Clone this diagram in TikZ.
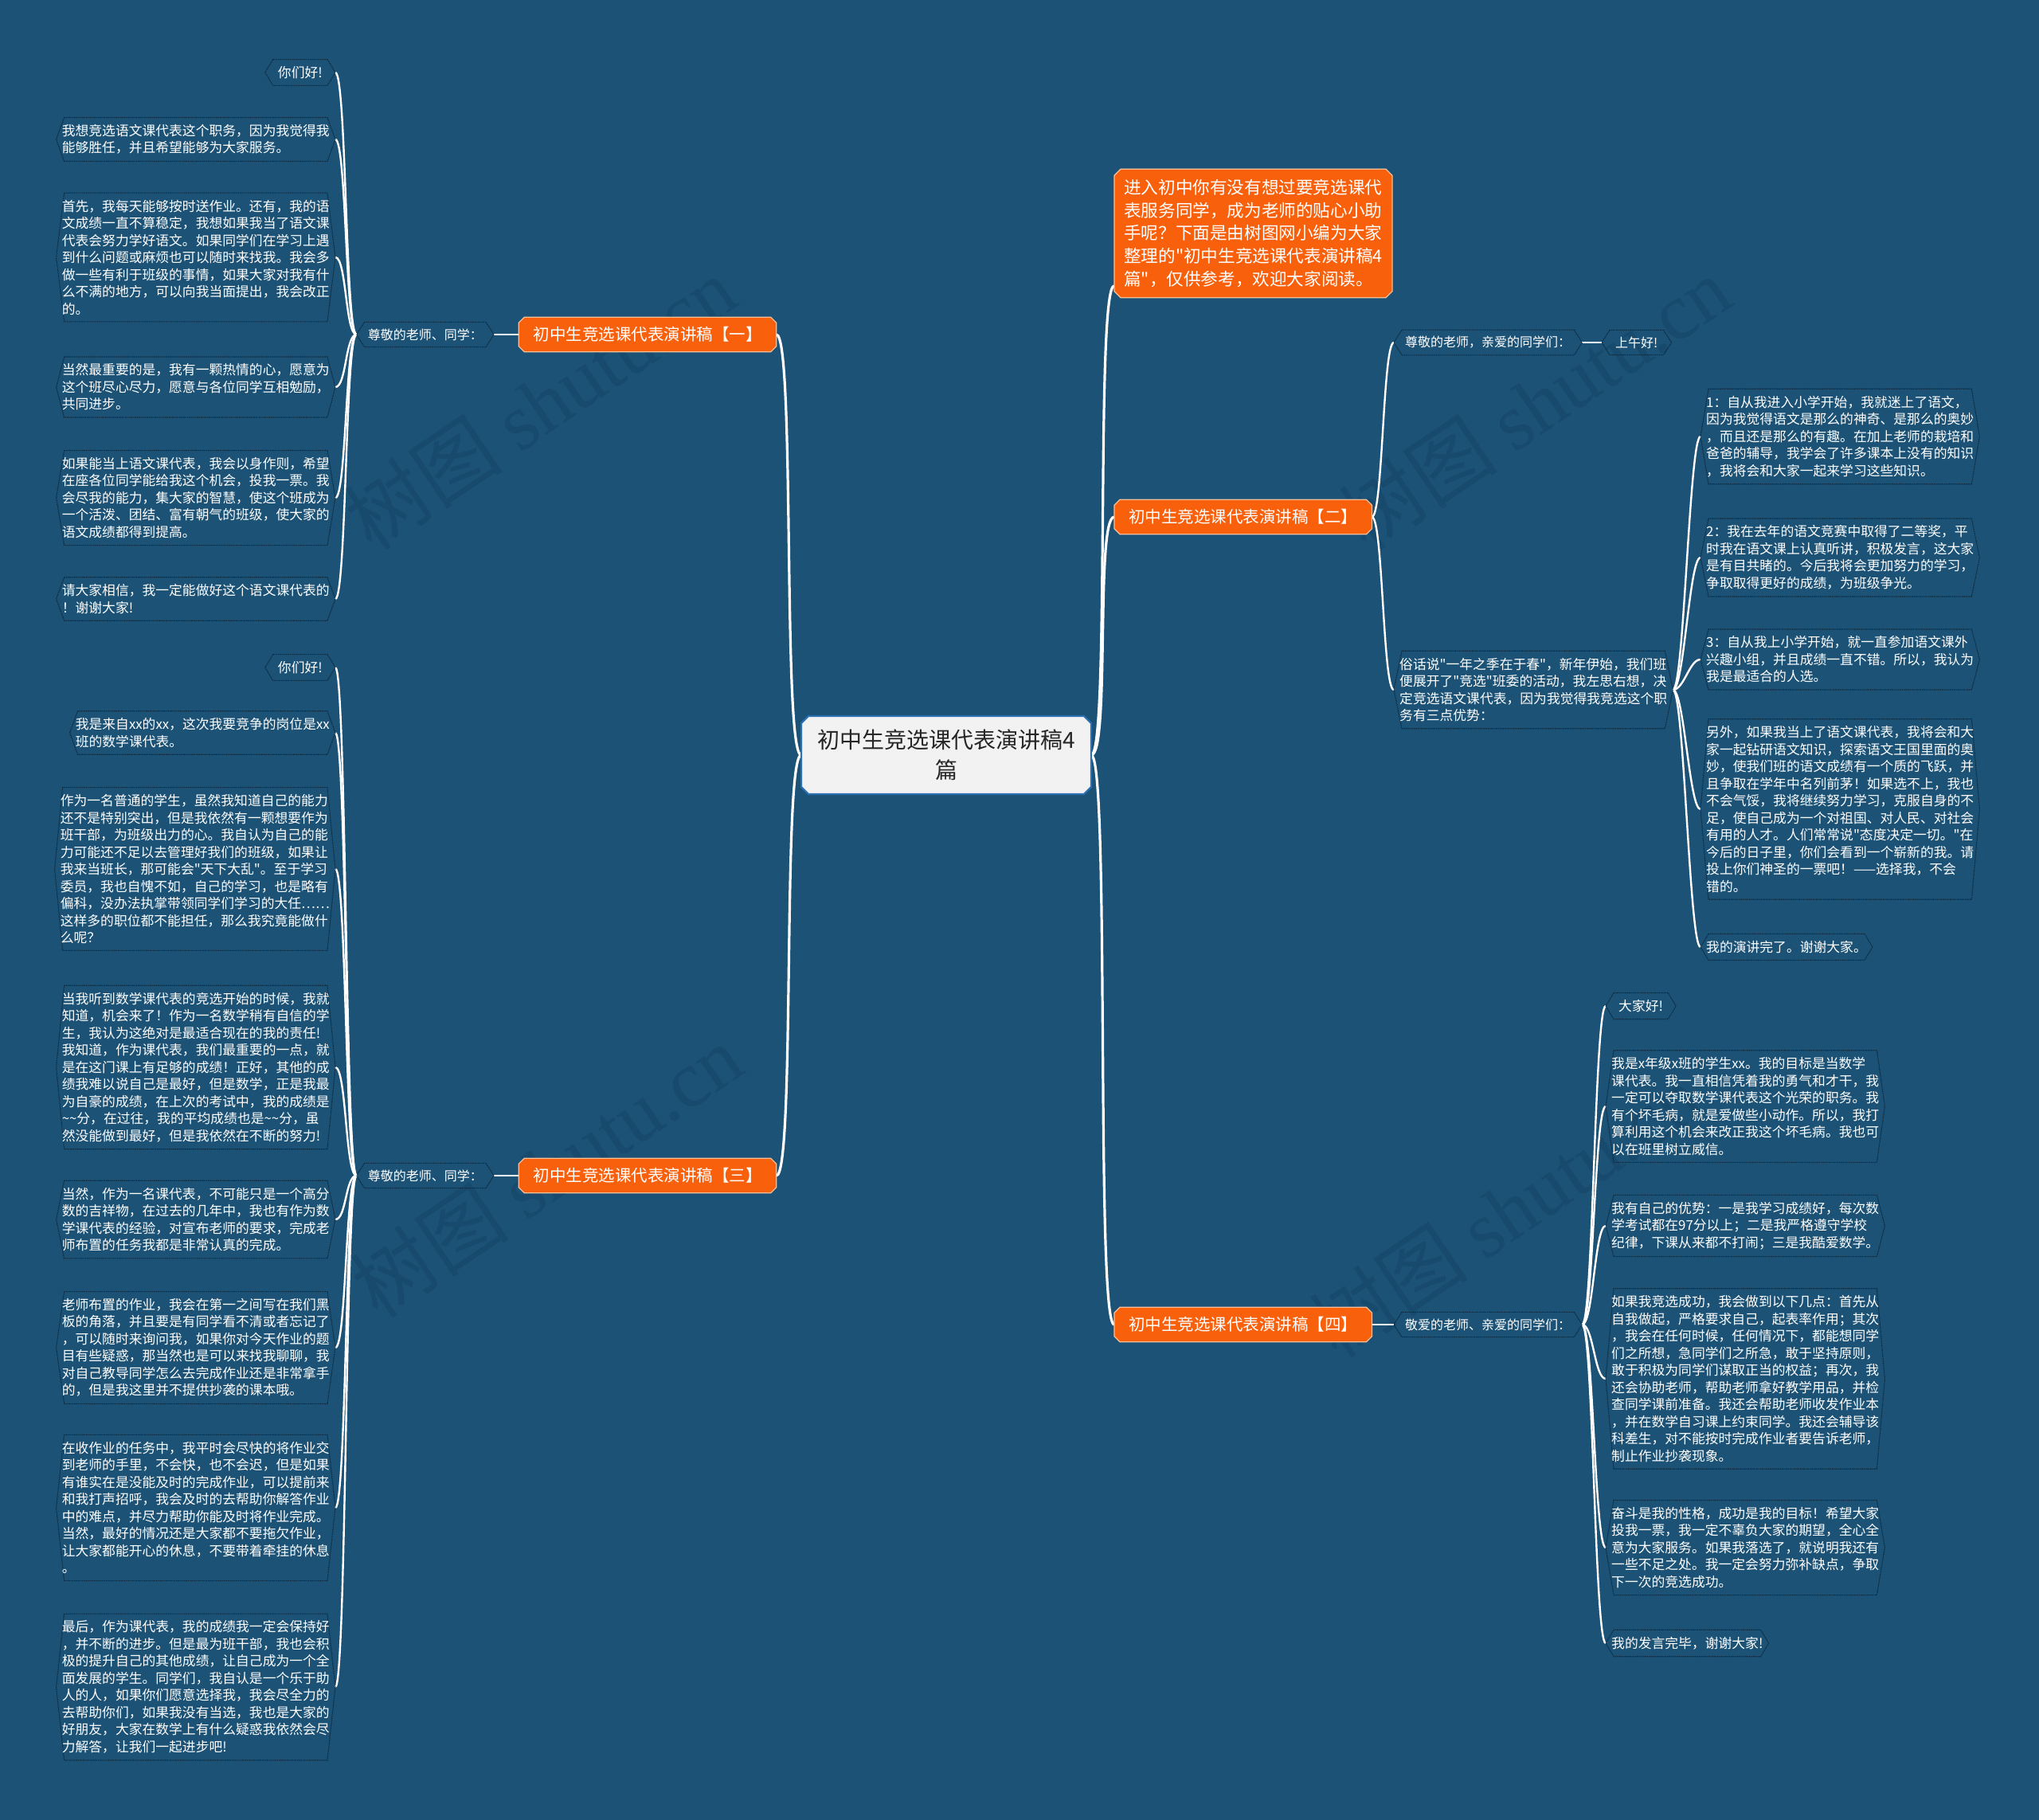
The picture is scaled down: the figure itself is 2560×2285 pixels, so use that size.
\documentclass[tikz,border=0pt]{standalone}
\usepackage{fontspec}
\setmainfont{Noto Sans CJK SC}[Ligatures=TeXOff]
\newfontfamily\wmserif{Liberation Serif}
\newcommand\dq{\symbol{34}}
\definecolor{bgc}{RGB}{27,82,118}
\definecolor{wmc}{RGB}{23,74,108}
\definecolor{orc}{RGB}{248,96,12}
\definecolor{orb}{RGB}{252,190,150}
\definecolor{cfill}{RGB}{242,242,242}
\definecolor{cline}{RGB}{44,112,180}
\definecolor{lfc}{RGB}{12,36,56}
\pgfdeclarelayer{back}
\pgfdeclarelayer{mid}
\pgfsetlayers{back,mid,main}
\newcommand\myhex[2][leafline]{%
  \draw[#1] ([xshift=10pt]#2.north west) -- ([xshift=-10pt]#2.north east) -- (#2.east)
  -- ([xshift=-10pt]#2.south east) -- ([xshift=10pt]#2.south west) -- (#2.west) -- cycle;}
\newcommand\myoct[3]{%
  \draw[#2] ([xshift=#3]#1.north west) -- ([xshift=-#3]#1.north east) -- ([yshift=-#3]#1.north east)
  -- ([yshift=#3]#1.south east) -- ([xshift=-#3]#1.south east) -- ([xshift=#3]#1.south west)
  -- ([yshift=#3]#1.south west) -- ([yshift=-#3]#1.north west) -- cycle;}
\begin{document}
\begin{tikzpicture}[x=1pt,y=-1pt,
  leaf/.style={text=white, font=\fontsize{16.8}{21.5}\selectfont, align=left, inner xsep=7pt, inner ysep=8.5pt},
  small/.style={leaf, inner xsep=16pt},
  lvl/.style={text=white, font=\fontsize{16}{19}\selectfont, inner xsep=14pt, inner ysep=8pt},
  branch/.style={text=white, font=\fontsize{20.5}{24}\selectfont, inner xsep=18pt, inner ysep=12pt},
  edge/.style={white, line width=2.4pt},
  bigedge/.style={white, line width=3.2pt},
  leafline/.style={draw=lfc, densely dotted, line width=1.1pt},
  orangebox/.style={fill=orc, draw=orb, line width=1.2pt},
  centerbox/.style={fill=cfill, draw=cline, line width=2pt},
  wm/.style={text=wmc, font=\fontsize{100}{100}\selectfont, rotate=34}]
\useasboundingbox (0,0) rectangle (2560,2285);
\begin{pgfonlayer}{back}
\fill[bgc] (0,0) rectangle (2560,2285);
\node[wm] (wm1) at (678,506) {树图 {\wmserif shutu.cn}};
\node[wm] (wm2) at (1927,506) {树图 {\wmserif shutu.cn}};
\node[wm] (wm3) at (686,1470) {树图 {\wmserif shutu.cn}};
\node[wm] (wm4) at (1890,1520) {树图 {\wmserif shutu.cn}};
\end{pgfonlayer}

% center
\node[font=\fontsize{28}{37.5}\selectfont, align=center, inner xsep=20pt, inner ysep=17pt, text=black!85] (C) at (1188,948)
  {初中生竞选课代表演讲稿4\\篇};

% branches
\node[branch] (B1) at (813,420) {初中生竞选课代表演讲稿【一】};
\node[branch] (B3) at (813,1476) {初中生竞选课代表演讲稿【三】};
\node[branch, anchor=west] (B2) at (1399,649) {初中生竞选课代表演讲稿【二】};
\node[branch, anchor=west] (B4) at (1399,1663) {初中生竞选课代表演讲稿【四】};
\node[text=white, font=\fontsize{21.6}{28.6}\selectfont, align=left, inner xsep=12pt, inner ysep=13pt, anchor=west] (I) at (1399,293)
  {进入初中你有没有想过要竞选课代\\表服务同学，成为老师的贴心小助\\手呢？下面是由树图网小编为大家\\整理的\dq 初中生竞选课代表演讲稿4\\篇\dq，仅供参考，欢迎大家阅读。};

% level 2
\node[lvl, anchor=east] (LA) at (620,420) {尊敬的老师、同学：};
\node[lvl, anchor=east] (LB) at (620,1476) {尊敬的老师、同学：};
\node[lvl, anchor=west] (R0) at (1750,430) {尊敬的老师，亲爱的同学们：};
\node[lvl, anchor=west, inner xsep=17pt] (R0b) at (2011,430) {上午好!};
\node[lvl, anchor=west] (S0) at (1750,1663) {敬爱的老师、亲爱的同学们：};
\node[leaf, anchor=west] (R1) at (1750,866)
  {俗话说\dq 一年之季在于春\dq，新年伊始，我们班\\便展开了\dq 竞选\dq 班委的活动，我左思右想，决\\定竞选语文课代表，因为我觉得我竞选这个职\\务有三点优势：};

% left upper leaves
\node[small, anchor=east] (L1) at (421,91) {你们好!};
\node[leaf, anchor=east] (L2) at (421,175) {我想竞选语文课代表这个职务，因为我觉得我\\能够胜任，并且希望能够为大家服务。};
\node[leaf, anchor=east] (L3) at (421,323) {首先，我每天能够按时送作业。还有，我的语\\文成绩一直不算稳定，我想如果我当了语文课\\代表会努力学好语文。如果同学们在学习上遇\\到什么问题或麻烦也可以随时来找我。我会多\\做一些有利于班级的事情，如果大家对我有什\\么不满的地方，可以向我当面提出，我会改正\\的。};
\node[leaf, anchor=east] (L4) at (421,486) {当然最重要的是，我有一颗热情的心，愿意为\\这个班尽心尽力，愿意与各位同学互相勉励，\\共同进步。};
\node[leaf, anchor=east] (L5) at (421,625) {如果能当上语文课代表，我会以身作则，希望\\在座各位同学能给我这个机会，投我一票。我\\会尽我的能力，集大家的智慧，使这个班成为\\一个活泼、团结、富有朝气的班级，使大家的\\语文成绩都得到提高。};
\node[leaf, anchor=east] (L6) at (421,752) {请大家相信，我一定能做好这个语文课代表的\\！谢谢大家!};

% left lower leaves
\node[small, anchor=east] (M1) at (421,838) {你们好!};
\node[leaf, anchor=east] (M2) at (421,920) {我是来自xx的xx，这次我要竞争的岗位是xx\\班的数学课代表。};
\node[leaf, anchor=east] (M3) at (421,1091) {作为一名普通的学生，虽然我知道自己的能力\\还不是特别突出，但是我依然有一颗想要作为\\班干部，为班级出力的心。我自认为自己的能\\力可能还不足以去管理好我们的班级，如果让\\我来当班长，那可能会\dq 天下大乱\dq。至于学习\\委员，我也自愧不如，自己的学习，也是略有\\偏科，没办法执掌带领同学们学习的大任……\\这样多的职位都不能担任，那么我究竟能做什\\么呢？};
\node[leaf, anchor=east] (M4) at (421,1340) {当我听到数学课代表的竞选开始的时候，我就\\知道，机会来了！作为一名数学稍有自信的学\\生，我认为这绝对是最适合现在的我的责任!\\我知道，作为课代表，我们最重要的一点，就\\是在这门课上有足够的成绩！正好，其他的成\\绩我难以说自己是最好，但是数学，正是我最\\为自豪的成绩，在上次的考试中，我的成绩是\\\textasciitilde\textasciitilde 分，在过往，我的平均成绩也是\textasciitilde\textasciitilde 分，虽\\然没能做到最好，但是我依然在不断的努力!};
\node[leaf, anchor=east] (M5) at (421,1531) {当然，作为一名课代表，不可能只是一个高分\\数的吉祥物，在过去的几年中，我也有作为数\\学课代表的经验，对宣布老师的要求，完成老\\师布置的任务我都是非常认真的完成。};
\node[leaf, anchor=east] (M6) at (421,1692) {老师布置的作业，我会在第一之间写在我们黑\\板的角落，并且要是有同学看不清或者忘记了\\，可以随时来询问我，如果你对今天作业的题\\目有些疑惑，那当然也是可以来找我聊聊，我\\对自己教导同学怎么去完成作业还是非常拿手\\的，但是我这里并不提供抄袭的课本哦。};
\node[leaf, anchor=east] (M7) at (421,1893) {在收作业的任务中，我平时会尽快的将作业交\\到老师的手里，不会快，也不会迟，但是如果\\有谁实在是没能及时的完成作业，可以提前来\\和我打声招呼，我会及时的去帮助你解答作业\\中的难点，并尽力帮助你能及时将作业完成。\\当然，最好的情况还是大家都不要拖欠作业，\\让大家都能开心的休息，不要带着牵挂的休息\\。};
\node[leaf, anchor=east] (M8) at (421,2118) {最后，作为课代表，我的成绩我一定会保持好\\，并不断的进步。但是最为班干部，我也会积\\极的提升自己的其他成绩，让自己成为一个全\\面发展的学生。同学们，我自认是一个乐于助\\人的人，如果你们愿意选择我，我会尽全力的\\去帮助你们，如果我没有当选，我也是大家的\\好朋友，大家在数学上有什么疑惑我依然会尽\\力解答，让我们一起进步吧!};

% right [二] leaves
\node[leaf, anchor=west] (R2) at (2135,548) {1：自从我进入小学开始，我就迷上了语文，\\因为我觉得语文是那么的神奇、是那么的奥妙\\，而且还是那么的有趣。在加上老师的栽培和\\爸爸的辅导，我学会了许多课本上没有的知识\\，我将会和大家一起来学习这些知识。};
\node[leaf, anchor=west] (R3) at (2135,700) {2：我在去年的语文竞赛中取得了二等奖，平\\时我在语文课上认真听讲，积极发言，这大家\\是有目共睹的。今后我将会更加努力的学习，\\争取取得更好的成绩，为班级争光。};
\node[leaf, anchor=west] (R4) at (2135,828) {3：自从我上小学开始，就一直参加语文课外\\兴趣小组，并且成绩一直不错。所以，我认为\\我是最适合的人选。};
\node[leaf, anchor=west] (R5) at (2135,1016) {另外，如果我当上了语文课代表，我将会和大\\家一起钻研语文知识，探索语文王国里面的奥\\妙，使我们班的语文成绩有一个质的飞跃，并\\且争取在学年中名列前茅！如果选不上，我也\\不会气馁，我将继续努力学习，克服自身的不\\足，使自己成为一个对祖国、对人民、对社会\\有用的人才。人们常常说\dq 态度决定一切。\dq 在\\今后的日子里，你们会看到一个崭新的我。请\\投上你们神圣的一票吧！——选择我，不会\\错的。};
\node[leaf, anchor=west] (R6) at (2135,1189) {我的演讲完了。谢谢大家。};

% right [四] leaves
\node[small, anchor=west] (S1) at (2016,1263) {大家好!};
\node[leaf, anchor=west] (S2) at (2016,1389) {我是x年级x班的学生xx。我的目标是当数学\\课代表。我一直相信凭着我的勇气和才干，我\\一定可以夺取数学课代表这个光荣的职务。我\\有个坏毛病，就是爱做些小动作。所以，我打\\算利用这个机会来改正我这个坏毛病。我也可\\以在班里树立威信。};
\node[leaf, anchor=west] (S3) at (2016,1539) {我有自己的优势：一是我学习成绩好，每次数\\学考试都在97分以上；二是我严格遵守学校\\纪律，下课从来都不打闹；三是我酷爱数学。};
\node[leaf, anchor=west] (S4) at (2016,1731) {如果我竞选成功，我会做到以下几点：首先从\\自我做起，严格要求自己，起表率作用；其次\\，我会在任何时候，任何情况下，都能想同学\\们之所想，急同学们之所急，敢于坚持原则，\\敢于积极为同学们谋取正当的权益；再次，我\\还会协助老师，帮助老师拿好教学用品，并检\\查同学课前准备。我还会帮助老师收发作业本\\，并在数学自习课上约束同学。我还会辅导该\\科差生，对不能按时完成作业者要告诉老师，\\制止作业抄袭现象。};
\node[leaf, anchor=west] (S5) at (2016,1943) {奋斗是我的性格，成功是我的目标！希望大家\\投我一票，我一定不辜负大家的期望，全心全\\意为大家服务。如果我落选了，就说明我还有\\一些不足之处。我一定会努力弥补缺点，争取\\下一次的竞选成功。};
\node[leaf, anchor=west] (S6) at (2016,2063) {我的发言完毕，谢谢大家!};

\begin{pgfonlayer}{mid}
% connectors
\draw[bigedge] (C.west) .. controls +(-24,0) and +(24,0) .. (B1.east);
\draw[bigedge] (C.west) .. controls +(-24,0) and +(24,0) .. (B3.east);
\draw[bigedge] (C.east) .. controls +(24,0) and +(-24,0) .. ([yshift=15pt]I.south west);
\draw[bigedge] (C.east) .. controls +(24,0) and +(-24,0) .. (B2.west);
\draw[bigedge] (C.east) .. controls +(24,0) and +(-24,0) .. (B4.west);
\draw[edge] (B1.west) -- (LA.east);
\draw[edge] (B3.west) -- (LB.east);
\draw[edge] (B4.east) -- (S0.west);
\draw[edge] (R0.east) -- (R0b.west);
\draw[edge] (B2.east) .. controls +(14,0) and +(-14,0) .. (R0.west);
\draw[edge] (B2.east) .. controls +(14,0) and +(-14,0) .. (R1.west);
\foreach \n in {L1,L2,L3,L4,L5,L6}
  {\draw[edge] (LA.west) .. controls +(-14,0) and +(14,0) .. (\n.east);}
\foreach \n in {M1,M2,M3,M4,M5,M6,M7,M8}
  {\draw[edge] (LB.west) .. controls +(-14,0) and +(14,0) .. (\n.east);}
\foreach \n in {R2,R3,R4,R5,R6}
  {\draw[edge] (R1.east) .. controls +(14,0) and +(-14,0) .. (\n.west);}
\foreach \n in {S1,S2,S3,S4,S5,S6}
  {\draw[edge] (S0.east) .. controls +(14,0) and +(-14,0) .. (\n.west);}
% shapes
\myoct{C}{centerbox}{9pt}
\myoct{B1}{orangebox}{7pt}
\myoct{B2}{orangebox}{7pt}
\myoct{B3}{orangebox}{7pt}
\myoct{B4}{orangebox}{7pt}
\myoct{I}{orangebox}{8pt}
\foreach \n in {LA,LB,R0,R0b,S0,R1,L1,L2,L3,L4,L5,L6,M1,M2,M3,M4,M5,M6,M7,M8,R2,R3,R4,R5,R6,S1,S2,S3,S4,S5,S6}
  {\myhex{\n}}
\end{pgfonlayer}
\end{tikzpicture}
\end{document}
